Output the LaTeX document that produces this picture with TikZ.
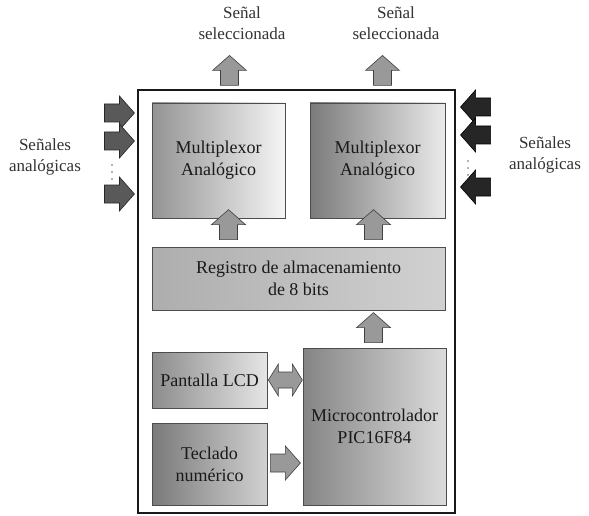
\documentclass[tikz,border=0pt]{standalone}
\usepackage{fontspec}
\setmainfont{Liberation Serif}
\usetikzlibrary{calc}
\begin{document}
\begin{tikzpicture}[x=1pt,y=-1pt,
  box/.style={draw=black!70, line width=0.7pt, align=center, inner sep=0pt,
    font=\fontsize{18}{22}\selectfont, text=black!90},
  lbl/.style={align=center, font=\fontsize{17}{21}\selectfont, text=black!80},
  pics/barrow/.style={code={
    \draw[pic actions] (0pt,-9pt) -- (15pt,-9pt) -- (15pt,-17pt) -- (30pt,0pt)
      -- (15pt,17pt) -- (15pt,9pt) -- (0pt,9pt) -- cycle;}},
  pics/dbarrow/.style={code={
    \draw[pic actions] (0pt,0pt) -- (10pt,-16pt) -- (10pt,-8pt) -- (24pt,-8pt) -- (24pt,-16pt)
      -- (34pt,0pt) -- (24pt,16pt) -- (24pt,8pt) -- (10pt,8pt) -- (10pt,16pt) -- cycle;}},
  garrow/.style={draw=black!75, line width=0.6pt, fill=black!40},
  darrow/.style={draw=black!85, line width=0.6pt, fill=black!65},
  karrow/.style={draw=black, line width=0.6pt, fill=black!85},
  ]
\useasboundingbox (0,0) rectangle (589,516);
\fill[white] (0,0) rectangle (589,516);

% outer frame
\node[draw=black!90, line width=1.1pt, minimum width=317pt, minimum height=423pt, inner sep=0pt] (outer) at (296.5,301.5) {};

% blocks
\node[box, minimum width=133pt, minimum height=115pt, left color=black!42, right color=black!4] (mux1) at (218.5,160.5) {Multiplexor\\Analógico};
\node[box, minimum width=135pt, minimum height=115pt, left color=black!52, right color=black!8] (mux2) at (377.5,160.5) {Multiplexor\\Analógico};
\node[box, minimum width=293pt, minimum height=63pt, left color=black!32, right color=black!18] (reg) at (298.5,278.5) {Registro de almacenamiento\\de 8 bits};
\node[box, minimum width=115pt, minimum height=56pt, left color=black!45, right color=black!10] (lcd) at (209.5,380) {Pantalla LCD};
\node[box, minimum width=115pt, minimum height=82pt, left color=black!52, right color=black!18] (tec) at (209.5,464) {Teclado\\numérico};
\node[box, minimum width=143pt, minimum height=157pt, left color=black!48, right color=black!14] (mic) at (374.5,426.5) {Microcontrolador\\PIC16F84};

% labels
\node[lbl] (out1) at (242,23) {Señal\\seleccionada};
\node[lbl] (out2) at (396,23) {Señal\\seleccionada};
\node[lbl] (inl) at (45,157) {Señales\\analógicas};
\node[lbl] (inr) at (545,155) {Señales\\analógicas};

% output arrows
\pic[garrow, rotate=90] at ($(mux1.north |- outer.north)+(11,-4)$) {barrow};
\pic[garrow, rotate=90] at ($(mux2.north |- outer.north)+(5,-4)$) {barrow};

% register -> multiplexers
\pic[garrow, rotate=90] at ($(mux1.south |- reg.north)+(10,-7)$) {barrow};
\pic[garrow, rotate=90] at ($(mux2.south |- reg.north)+(-4,-7)$) {barrow};

% micro -> register
\pic[garrow, rotate=90] at ($(mic.north)+(-1,-5)$) {barrow};

% LCD <-> micro
\pic[garrow] at ($(lcd.east)+(1,0)$) {dbarrow};
% keyboard -> micro
\pic[garrow] at ($(tec.east |- 0,463)+(3,0)$) {barrow};

% left inputs
\foreach \yy in {113,141,194} \pic[darrow] at ($(outer.west |- 0,\yy)+(-33,0)$) {barrow};
\foreach \yy in {165,172,179} \fill[black!60] (112,\yy) circle (0.9pt);

% right inputs
\foreach \yy in {107,135,187} \pic[karrow, rotate=180] at ($(outer.east |- 0,\yy)+(35,0)$) {barrow};
\foreach \yy in {161,168,175} \fill[black!60] (468,\yy) circle (0.9pt);
\end{tikzpicture}
\end{document}
